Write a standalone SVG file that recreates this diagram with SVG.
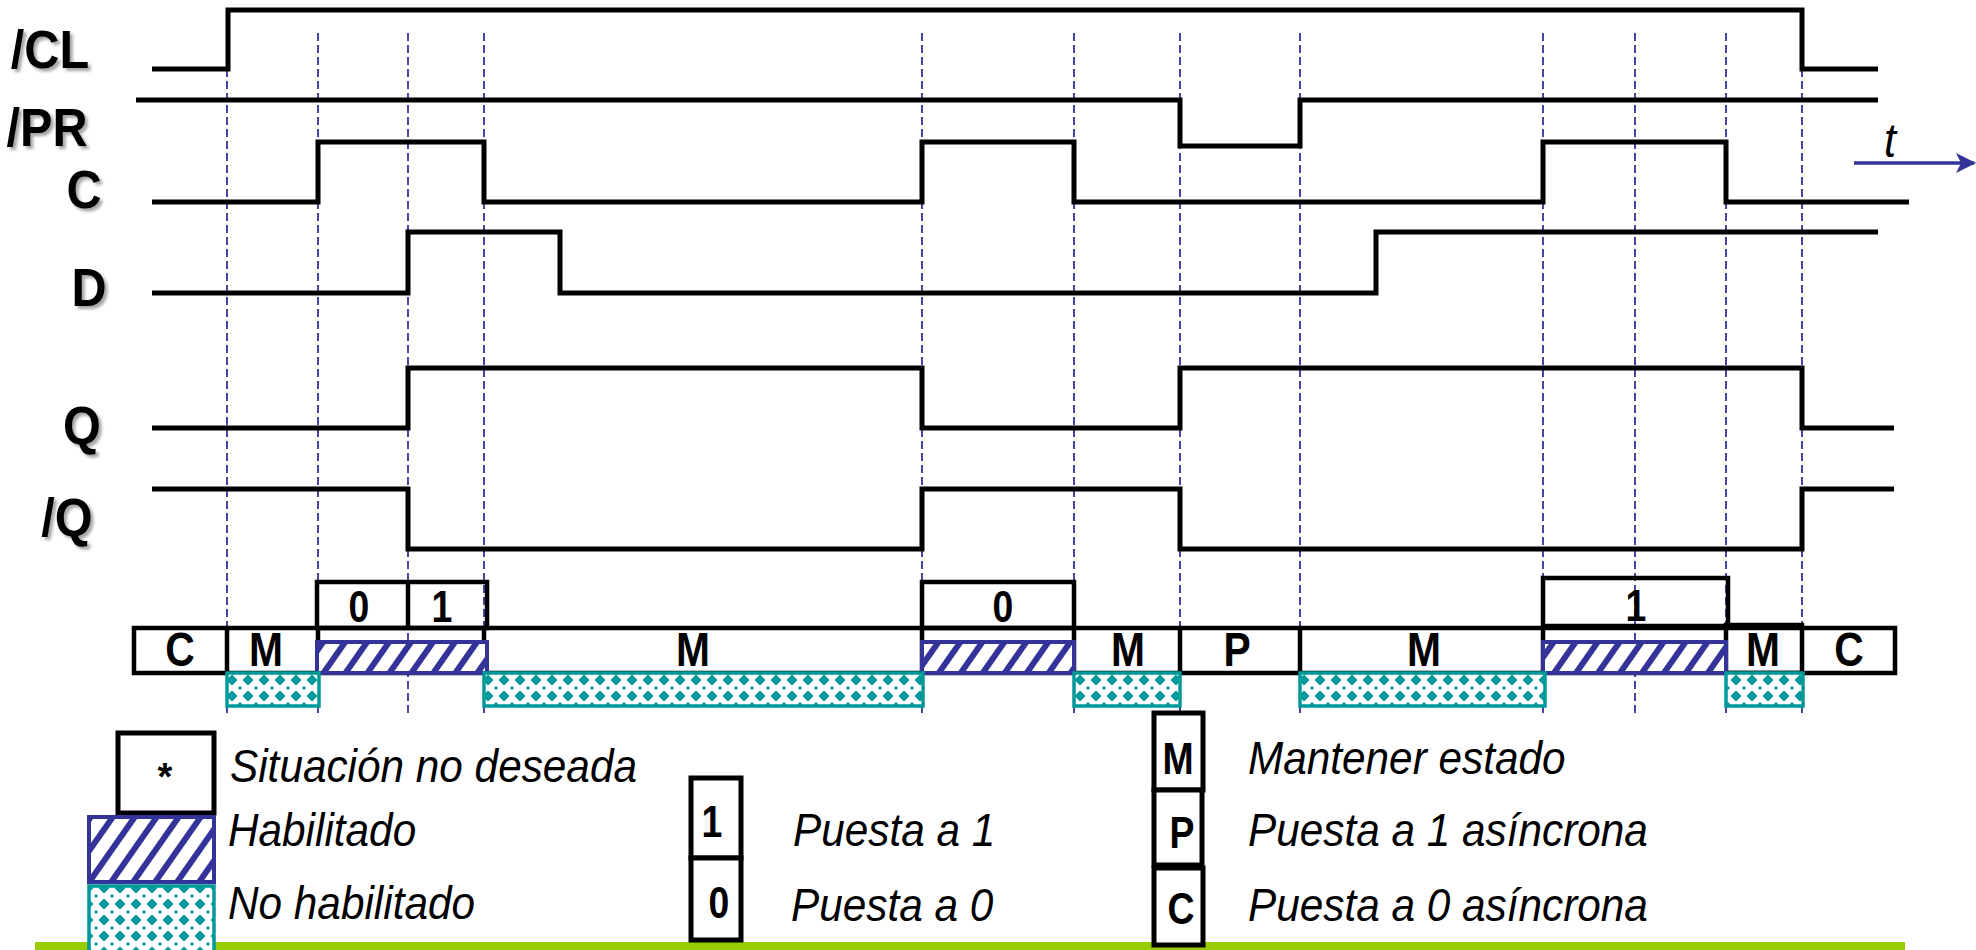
<svg xmlns="http://www.w3.org/2000/svg" width="1976" height="950" viewBox="0 0 1976 950">
  <style>
    .sig { fill: none; stroke: #000; stroke-width: 5; stroke-linejoin: miter; stroke-linecap: butt; }
    .grid { fill: none; stroke: #333399; stroke-width: 1.8; stroke-dasharray: 8 4; }
    .lbl { font-family: "Liberation Sans", Arial, sans-serif; font-weight: bold; font-size: 54px; fill: #000; text-anchor: middle; }
    .box { fill: none; stroke: #000; stroke-width: 4.5; }
    .boxw { fill: #fff; stroke: #000; stroke-width: 5; }
    .hatch { fill: url(#hatch); stroke: #333399; stroke-width: 4; }
    .dots { fill: url(#dots); stroke: #009999; stroke-width: 3.5; }
    .st { font-family: "Liberation Sans", Arial, sans-serif; font-weight: bold; font-size: 48px; fill: #000; text-anchor: middle; }
    .dg { font-family: "Liberation Sans", Arial, sans-serif; font-weight: bold; font-size: 44px; fill: #000; text-anchor: middle; }
    .it { font-family: "Liberation Sans", Arial, sans-serif; font-style: italic; font-size: 46px; fill: #000; }
  </style>
  <defs>
    <filter id="shadow" x="-20%" y="-20%" width="150%" height="150%">
      <feDropShadow dx="3" dy="3" stdDeviation="1.5" flood-color="#000" flood-opacity="0.35"/>
    </filter>
    <pattern id="hatch" width="18" height="18" patternUnits="userSpaceOnUse" patternTransform="rotate(35)">
      <rect width="18" height="18" fill="#fff"/>
      <rect width="6" height="18" fill="#333399"/>
    </pattern>
    <pattern id="dots" width="16" height="16" patternUnits="userSpaceOnUse">
      <rect width="16" height="16" fill="#fff"/>
      <path d="M8 2.5 L13.5 8 L8 13.5 L2.5 8 Z" fill="#009999"/>
      <path d="M0 -2 L2 0 L0 2 L-2 0 Z M16 -2 L18 0 L16 2 L14 0 Z M0 14 L2 16 L0 18 L-2 16 Z M16 14 L18 16 L16 18 L14 16 Z" fill="#009999"/>
    </pattern>
    <marker id="arrow" viewBox="0 0 20 20" refX="18" refY="10" markerWidth="20" markerHeight="20" markerUnits="userSpaceOnUse" orient="auto">
      <path d="M0 0 L20 10 L0 20 L5 10 Z" fill="#333399"/>
    </marker>
  </defs>

  <rect width="1976" height="950" fill="#fff"/>

  <!-- time grid: dashed markers at every transition -->
  <g id="connectors">
    <path class="grid" d="M227 33V713 M318 33V713 M408 33V713 M484 33V713 M922 33V713 M1074 33V713 M1180 33V713 M1300 33V713 M1543 33V713 M1635 33V713 M1726 33V713 M1802 33V713"/>
  </g>

  <!-- signal names (narrow bold) -->
  <g id="labels" filter="url(#shadow)">
    <text class="lbl" transform="matrix(0.9 0 0 1 50 68)">/CL</text>
    <text class="lbl" transform="matrix(0.9 0 0 1 47 146)">/PR</text>
    <text class="lbl" transform="matrix(0.9 0 0 1 84 208)">C</text>
    <text class="lbl" transform="matrix(0.9 0 0 1 89 306)">D</text>
    <text class="lbl" transform="matrix(0.9 0 0 1 82 444)">Q</text>
    <text class="lbl" transform="matrix(0.9 0 0 1 67 536)">/Q</text>
  </g>

  <!-- waveforms -->
  <g id="sig-CL"><path class="sig" d="M152 69 H228 V10 H1802 V69 H1878"/></g>
  <g id="sig-PR"><path class="sig" d="M136 100 H1180 V146 H1300 V100 H1878"/></g>
  <g id="sig-C"><path class="sig" d="M152 202 H318 V142 H484 V202 H922 V142 H1074 V202 H1543 V142 H1726 V202 H1909"/></g>
  <g id="sig-D"><path class="sig" d="M152 293 H408 V232 H560 V293 H1376 V232 H1878"/></g>
  <g id="sig-Q"><path class="sig" d="M152 428 H408 V368 H922 V428 H1180 V368 H1802 V428 H1894"/></g>
  <g id="sig-nQ"><path class="sig" d="M152 489 H408 V549 H922 V489 H1180 V549 H1802 V489 H1894"/></g>

  <!-- time axis -->
  <g id="time-axis">
    <line x1="1854" y1="163" x2="1974" y2="163" stroke="#333399" stroke-width="3.5" marker-end="url(#arrow)"/>
    <text transform="matrix(0.9 0 0 1 1884 157)" font-family="'Liberation Sans', Arial, sans-serif" font-style="italic" font-size="48">t</text>
  </g>

  <!-- state bar -->
  <g id="state-bar">
    <rect class="box" x="134" y="628" width="1761" height="45"/>
    <path class="box" d="M227 628V673 M318 628V673 M484 628V673 M922 628V673 M1074 628V673 M1180 628V673 M1300 628V673 M1543 628V673"/>
    <rect class="box" x="1726" y="625" width="76" height="48"/>
  </g>

  <!-- synchronous action boxes -->
  <g id="action-01">
    <rect class="box" x="317" y="582" width="170" height="46"/>
    <line x1="408" y1="582" x2="408" y2="628" stroke="#000" stroke-width="4.5"/>
    <text class="dg" transform="matrix(0.85 0 0 1 359 622)">0</text>
    <text class="dg" transform="matrix(0.85 0 0 1 442 622)">1</text>
  </g>
  <g id="action-0">
    <rect class="box" x="922" y="582" width="152" height="46"/>
    <text class="dg" transform="matrix(0.85 0 0 1 1003 622)">0</text>
  </g>
  <g id="action-1">
    <rect class="box" x="1543" y="578" width="185" height="48"/>
    <text class="dg" transform="matrix(0.85 0 0 1 1636 621)">1</text>
  </g>

  <!-- enabled intervals -->
  <g id="enabled">
    <rect class="hatch" x="317" y="642" width="170" height="31"/>
    <rect class="hatch" x="922" y="642" width="152" height="31"/>
    <rect class="hatch" x="1543" y="642" width="183" height="31"/>
  </g>

  <!-- disabled intervals -->
  <g id="disabled">
    <rect class="dots" x="227" y="673" width="92" height="33"/>
    <rect class="dots" x="484" y="673" width="439" height="33"/>
    <rect class="dots" x="1074" y="673" width="106" height="33"/>
    <rect class="dots" x="1300" y="673" width="245" height="33"/>
    <rect class="dots" x="1726" y="673" width="77" height="33"/>
  </g>

  <!-- state letters -->
  <g id="state-text">
    <text class="st" transform="matrix(0.85 0 0 1 180 666)">C</text>
    <text class="st" transform="matrix(0.85 0 0 1 266 666)">M</text>
    <text class="st" transform="matrix(0.85 0 0 1 693 666)">M</text>
    <text class="st" transform="matrix(0.85 0 0 1 1128 666)">M</text>
    <text class="st" transform="matrix(0.85 0 0 1 1237 666)">P</text>
    <text class="st" transform="matrix(0.85 0 0 1 1424 666)">M</text>
    <text class="st" transform="matrix(0.85 0 0 1 1763 666)">M</text>
    <text class="st" transform="matrix(0.85 0 0 1 1849 666)">C</text>
  </g>

  <!-- bottom rule -->
  <rect id="rule" x="35" y="942" width="1870" height="8" fill="#99cc00"/>

  <!-- key -->
  <g id="key-undesired">
    <rect class="boxw" x="118" y="733" width="96" height="80"/>
    <text x="165" y="790" font-family="'Liberation Sans', Arial, sans-serif" font-weight="bold" font-size="38" text-anchor="middle">*</text>
    <text class="it" transform="matrix(0.92 0 0 1 230 782)">Situación no deseada</text>
  </g>
  <g id="key-enabled">
    <rect class="hatch" x="89" y="817" width="125" height="65"/>
    <text class="it" transform="matrix(0.92 0 0 1 228 846)">Habilitado</text>
  </g>
  <g id="key-disabled">
    <rect class="dots" x="89" y="886" width="125" height="66"/>
    <text class="it" transform="matrix(0.92 0 0 1 228 919)">No habilitado</text>
  </g>
  <g id="key-set">
    <rect class="boxw" x="691" y="778" width="50" height="80"/>
    <text class="dg" transform="matrix(0.85 0 0 1 712 837)">1</text>
    <text class="it" transform="matrix(0.92 0 0 1 793 846)">Puesta a 1</text>
  </g>
  <g id="key-reset">
    <rect class="boxw" x="691" y="858" width="50" height="82"/>
    <text class="dg" transform="matrix(0.85 0 0 1 719 918)">0</text>
    <text class="it" transform="matrix(0.92 0 0 1 791 921)">Puesta a 0</text>
  </g>
  <g id="key-hold">
    <rect class="boxw" x="1154" y="713" width="49" height="77"/>
    <text class="dg" transform="matrix(0.85 0 0 1 1178 774)">M</text>
    <text class="it" transform="matrix(0.92 0 0 1 1248 774)">Mantener estado</text>
  </g>
  <g id="key-preset">
    <rect class="boxw" x="1154" y="790" width="48" height="75"/>
    <text class="dg" transform="matrix(0.85 0 0 1 1182 848)">P</text>
    <text class="it" transform="matrix(0.92 0 0 1 1248 846)">Puesta a 1 asíncrona</text>
  </g>
  <g id="key-clear">
    <rect class="boxw" x="1154" y="868" width="49" height="77"/>
    <text class="dg" transform="matrix(0.85 0 0 1 1181 924)">C</text>
    <text class="it" transform="matrix(0.92 0 0 1 1248 921)">Puesta a 0 asíncrona</text>
  </g>
</svg>
